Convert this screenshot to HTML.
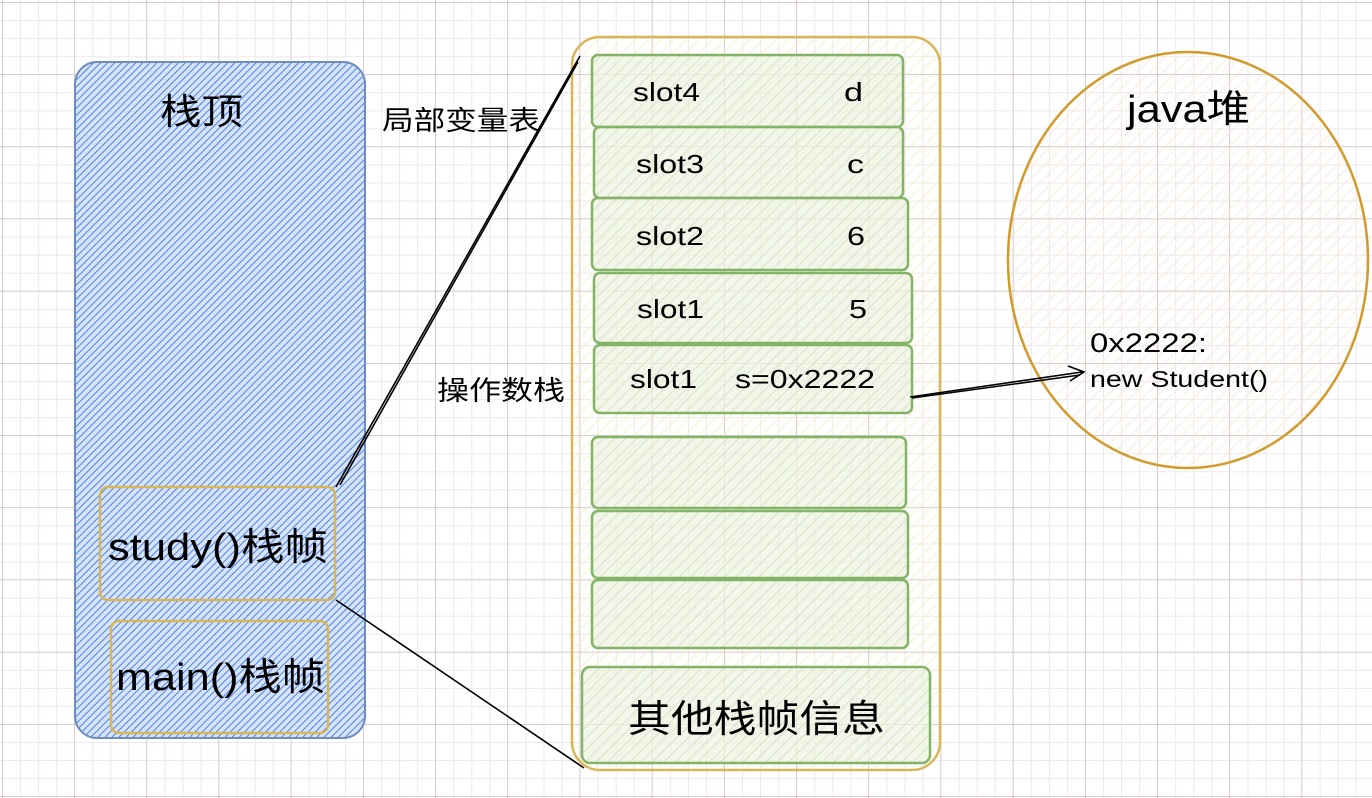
<!DOCTYPE html>
<html><head><meta charset="utf-8"><style>
html,body{margin:0;padding:0;background:#fff;}
svg{display:block;}
text{font-family:"Liberation Sans","Noto Sans CJK SC",sans-serif;fill:#000;}
</style></head><body>
<svg width="1372" height="798" viewBox="0 0 1372 798" xmlns="http://www.w3.org/2000/svg">
<defs>
<pattern id="minor" width="18.05" height="18.05" patternUnits="userSpaceOnUse" x="2" y="2">
<path d="M0 0H18.05M0 0V18.05" stroke="#efe8e8" stroke-width="2" fill="none"/>
</pattern>
<pattern id="major" width="72.2" height="72.2" patternUnits="userSpaceOnUse" x="2" y="2">
<path d="M0 0H72.2M0 0V72.2" stroke="#bfaeae" stroke-width="1" fill="none"/>
</pattern>
<pattern id="blue" width="5" height="5" patternUnits="userSpaceOnUse" patternTransform="rotate(45)">
<rect width="5" height="5" fill="#d6e3fa"/>
<line x1="0" y1="0" x2="0" y2="5" stroke="#3a7ae6" stroke-width="1.8"/>
</pattern>
<pattern id="yel" width="9" height="9" patternUnits="userSpaceOnUse" patternTransform="rotate(45)">
<line x1="0" y1="0" x2="0" y2="9" stroke="#f8ecc0" stroke-width="1.5"/>
</pattern>
<pattern id="grn" width="8" height="8" patternUnits="userSpaceOnUse" patternTransform="rotate(45)">
<rect width="8" height="8" fill="#eef3e2" fill-opacity="0.7"/>
<line x1="0" y1="0" x2="0" y2="8" stroke="#cfe0c2" stroke-width="1.6"/>
</pattern>
<pattern id="org" width="9" height="9" patternUnits="userSpaceOnUse" patternTransform="rotate(45)">
<line x1="0" y1="0" x2="0" y2="9" stroke="#fbe6d2" stroke-width="1.5"/>
</pattern>
</defs>
<rect width="1372" height="798" fill="url(#minor)"/>
<rect width="1372" height="798" fill="url(#major)"/>

<!-- blue stack -->
<rect x="75" y="62" width="290" height="676" rx="22" fill="url(#blue)" stroke="#6c8ebf" stroke-width="2"/>
<text x="160" y="124" font-size="36" textLength="83" lengthAdjust="spacingAndGlyphs">栈顶</text>
<rect x="100" y="487" width="235" height="113" rx="8" fill="none" stroke="#d6b656" stroke-width="2.5"/>
<text x="108" y="560" font-size="38" textLength="220" lengthAdjust="spacingAndGlyphs">study()栈帧</text>
<rect x="111" y="621" width="217" height="112" rx="8" fill="none" stroke="#d6b656" stroke-width="2.5"/>
<text x="116" y="690" font-size="38" textLength="209" lengthAdjust="spacingAndGlyphs">main()栈帧</text>

<!-- yellow frame -->
<rect x="572" y="37" width="368" height="733" rx="28" fill="url(#yel)" stroke="#d6b656" stroke-width="2.5"/>
<g stroke="#82b366" stroke-width="2.5" fill="url(#grn)">
<rect x="592" y="55" width="311" height="72" rx="6"/>
<rect x="594" y="127" width="309" height="71" rx="6"/>
<rect x="592" y="198" width="316" height="72" rx="6"/>
<rect x="594" y="273" width="318" height="70" rx="6"/>
<rect x="594" y="345" width="318" height="68" rx="6"/>
<rect x="592" y="437" width="314" height="71" rx="6"/>
<rect x="592" y="511" width="316" height="67" rx="6"/>
<rect x="592" y="580" width="316" height="68" rx="6"/>
<rect x="582" y="667" width="348" height="96" rx="8"/>
</g>
<g font-size="26">
<text x="633" y="101" textLength="67" lengthAdjust="spacingAndGlyphs">slot4</text><text x="844" y="101" textLength="19" lengthAdjust="spacingAndGlyphs">d</text>
<text x="636" y="173" textLength="68" lengthAdjust="spacingAndGlyphs">slot3</text><text x="847" y="173" textLength="17" lengthAdjust="spacingAndGlyphs">c</text>
<text x="636" y="245" textLength="68" lengthAdjust="spacingAndGlyphs">slot2</text><text x="847" y="245" textLength="18" lengthAdjust="spacingAndGlyphs">6</text>
<text x="637" y="318" textLength="67" lengthAdjust="spacingAndGlyphs">slot1</text><text x="849" y="318" textLength="18" lengthAdjust="spacingAndGlyphs">5</text>
<text x="630" y="388" textLength="67" lengthAdjust="spacingAndGlyphs">slot1</text><text x="735" y="388" textLength="140" lengthAdjust="spacingAndGlyphs">s=0x2222</text>
</g>
<text x="628" y="732" font-size="38" textLength="257" lengthAdjust="spacingAndGlyphs">其他栈帧信息</text>
<text x="382" y="130" font-size="27" textLength="158" lengthAdjust="spacingAndGlyphs">局部变量表</text>
<text x="437" y="400" font-size="27" textLength="128" lengthAdjust="spacingAndGlyphs">操作数栈</text>

<!-- heap -->
<ellipse cx="1188" cy="260" rx="180" ry="208" fill="url(#org)" stroke="#d19a2a" stroke-width="2.5"/>
<text x="1127" y="122" font-size="38" textLength="123" lengthAdjust="spacingAndGlyphs">java堆</text>
<text x="1090" y="352" font-size="27" textLength="117" lengthAdjust="spacingAndGlyphs">0x2222:</text>
<text x="1090" y="387" font-size="23" textLength="178" lengthAdjust="spacingAndGlyphs">new Student()</text>

<!-- connectors -->
<g stroke="#000" stroke-width="1.6" fill="none">
<path d="M336 487 L580 56"/><path d="M340 485 L578 62"/>
<path d="M336 600 L584 768"/>
<path d="M910 397 L1082 372"/><path d="M912 398 L1080 375"/>
<path d="M1068 366 L1084 372 L1070 381"/>
</g>
</svg>
</body></html>
